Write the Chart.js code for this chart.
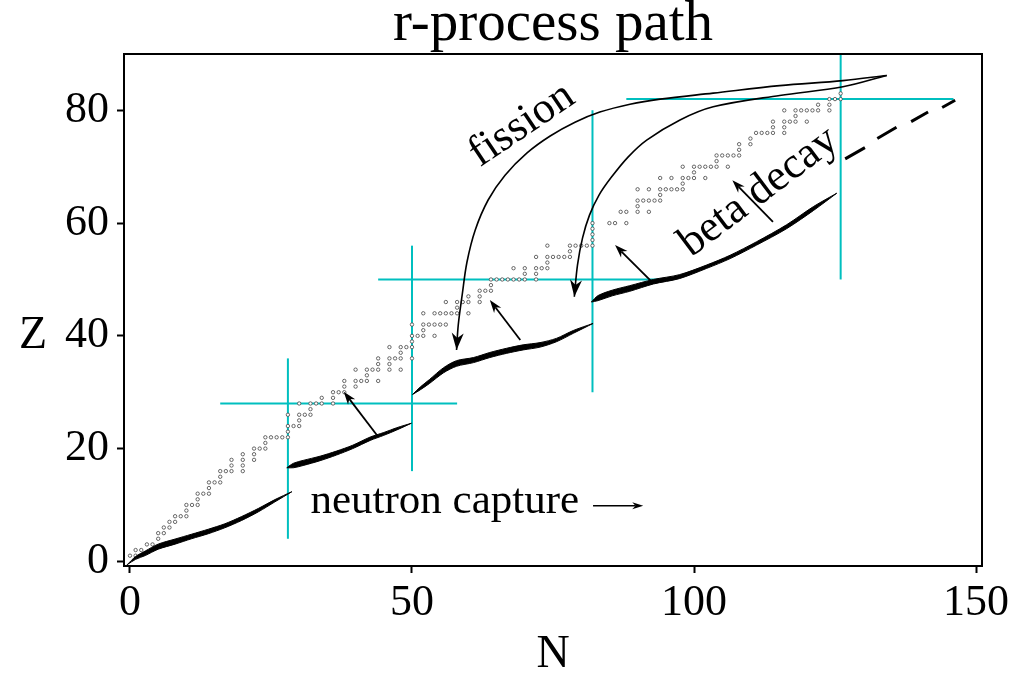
<!DOCTYPE html>
<html><head><meta charset="utf-8">
<script src="https://cdn.jsdelivr.net/npm/chart.js@4.4.0/dist/chart.umd.min.js"></script>
<style>html,body{margin:0;padding:0;background:#fff}</style>
</head><body>
<canvas id="c" width="1013" height="674"></canvas>
<script>
// ---------- data ----------
const xTickValues = [0, 50, 100, 150];
const yTickValues = [0, 20, 40, 60, 80];

// stable nuclides: [Z, [N values]]
const stableRows = [
 [1,[0,1]],[2,[1,2]],[3,[3,4]],[4,[5]],[5,[5,6]],[6,[6,7]],[7,[7,8]],[8,[8,9,10]],[9,[10]],
 [10,[10,11,12]],[11,[12]],[12,[12,13,14]],[13,[14]],[14,[14,15,16]],[15,[16]],[16,[16,17,18,20]],
 [17,[18,20]],[18,[18,20,22]],[19,[20,22]],[20,[22,23,24]],[21,[24]],[22,[24,25,26,27,28]],[23,[28]],
 [24,[28,29,30]],[25,[30]],[26,[28,30,31,32]],[27,[32]],[28,[30,32,33,34,36]],[29,[34,36]],[30,[36,37,38]],
 [31,[38,40]],[32,[38,40,41,42,44]],[33,[42]],[34,[40,42,43,44,46,48]],[35,[44,46]],[36,[44,46,47,48,50]],
 [37,[48]],[38,[46,48,49,50]],[39,[50]],[40,[50,51,52,54]],[41,[52]],[42,[50,52,53,54,55,56]],
 [44,[52,54,55,56,57,58,60]],[45,[58]],[46,[56,58,59,60,62]],[47,[60,62]],[48,[62,63,64]],[49,[64]],
 [50,[64,65,66,67,68,69,70,72]],[51,[70,72]],[52,[68,70,72,73,74]],[53,[74]],[54,[72,74,75,76,77,78]],
 [55,[78]],[56,[74,78,79,80,81,82]],[57,[82]],[58,[82]],[59,[82]],[60,[82,85,86,88]],[62,[87,88,90,92]],
 [63,[90]],[64,[90,91,92,93,94]],[65,[94]],[66,[90,92,94,95,96,97,98]],[67,[98]],[68,[94,96,98,99,100,102]],
 [69,[100]],[70,[98,100,101,102,103,104,106]],[71,[104]],[72,[104,105,106,107,108]],[73,[108]],[74,[108,110]],
 [75,[110]],[76,[111,112,113,114,116]],[77,[114,116]],[78,[114,116,117,118,120]],[79,[118]],
 [80,[116,118,119,120,121,122,124]],[81,[122,124]],[82,[124,125,126]],[83,[126]]
];

// r-process path bands (N, Z lower edge, Z upper edge)
const band1N  = [-0.5, 1.0, 2.7, 5.0, 8.0, 10.9, 13.9, 16.8, 19.8, 22.8, 25.7, 28.7];
const band1Lo = [-0.6, 0.35, 1.02, 2.15, 3.05, 4.0, 4.9, 5.95, 7.25, 8.8, 10.55, 12.35];
const band1Hi = [-0.6, 0.85, 1.82, 3.05, 3.95, 4.8, 5.7, 6.65, 7.95, 9.4, 10.95, 12.35];

const band2N  = [27.8, 29.0, 30.7, 33.7, 36.6, 39.5, 42.6, 45.0, 47.3, 49.9];
const band2Lo = [16.6, 16.6, 17.0, 17.85, 18.85, 20.0, 21.45, 22.35, 23.3, 24.5];
const band2Hi = [16.6, 17.4, 17.9, 18.65, 19.55, 20.6, 22.05, 22.85, 23.7, 24.5];

const band3N  = [50.1, 51.5, 53.1, 55.6, 57.9, 60.9, 63.8, 66.8, 69.7, 72.7, 75.6, 78.6, 82.1];
const band3Lo = [29.6, 30.45, 31.55, 33.45, 34.6, 35.25, 36.15, 36.9, 37.5, 38.0, 38.95, 40.45, 42.2];
const band3Hi = [29.6, 30.95, 32.25, 34.35, 35.6, 36.15, 37.05, 37.8, 38.4, 38.8, 39.55, 40.95, 42.2];

const band4N  = [81.8, 83.0, 85.5, 88.6, 92.8, 97.4, 102.2, 106.4, 111.1, 116.4, 121.2, 125.3];
const band4Lo = [46.0, 46.25, 47.1, 47.9, 49.2, 50.15, 51.95, 53.7, 56.1, 59.0, 62.25, 65.3];
const band4Hi = [46.0, 47.15, 48.1, 48.9, 50.0, 50.85, 52.55, 54.3, 56.7, 59.7, 62.95, 65.3];

// broken continuation beyond N=126 (null = gap)
const dashN = [126.8, 130.3, 131.4, 132.5, 135.9, 137.2, 138.5, 141.5, 142.8, 144.0, 146.3];
const dashZ = [71.4, 73.4, null, 75.0, 77.0, null, 78.0, 79.7, null, 80.5, 81.8];

// fission return curves (from fission point to arrow tip)
const fissionAN = [134.17, 126.4, 115.2, 103.4, 94.0, 88.65, 83.3, 78.9, 74.5, 70.4, 66.5, 63.5, 61.2, 59.75, 58.9, 58.2, 57.9];
const fissionAZ = [86.2, 85.28, 84.39, 83.06, 82.0, 81.1, 79.7, 77.9, 75.45, 72.45, 68.5, 64.1, 58.75, 53.1, 47.25, 41.9, 37.5];
const fissionBN = [134.17, 126.4, 115.2, 103.4, 97.52, 91.61, 88.3, 85.37, 83.16, 81.47, 80.23, 79.34, 78.78];
const fissionBZ = [86.2, 84.18, 82.65, 80.63, 78.3, 74.72, 71.71, 68.16, 64.97, 61.42, 57.34, 52.55, 46.93];

// magic numbers: vertical [N, Zfrom, Zto], horizontal [Z, Nfrom, Nto]
const magicVertical   = [[28, 4, 36], [50, 16, 56], [82, 30, 80], [126, 50, 95]];
const magicHorizontal = [[28, 16, 58], [50, 44, 96], [82, 88, 146]];

// beta-decay arrows [N tail, Z tail, N head, Z head]
const betaArrows = [[44.0, 22.1, 37.9, 30.1], [69.2, 39.25, 63.8, 46.35], [92.8, 49.3, 86.0, 56.1], [114.0, 60.2, 106.8, 67.6]];
const captureArrow = [82.1, 9.85, 91.0, 9.85];

// ---------- build ----------
const pts = (ns, zs) => ns.map((n, i) => ({x: n, y: zs[i]}));
const datasets = [];
const CYAN = '#00bfbf';

magicVertical.forEach(([n, z0, z1]) => datasets.push({
  type: 'line', data: [{x: n, y: z0}, {x: n, y: z1}], borderColor: CYAN, borderWidth: 2,
  pointRadius: 0, fill: false, order: 20, clip: 0
}));
magicHorizontal.forEach(([z, n0, n1]) => datasets.push({
  type: 'line', data: [{x: n0, y: z}, {x: n1, y: z}], borderColor: CYAN, borderWidth: 2,
  pointRadius: 0, fill: false, order: 20, clip: 0
}));

const stablePts = [];
stableRows.forEach(([z, ns]) => ns.forEach(n => stablePts.push({x: n, y: z})));
datasets.push({
  type: 'scatter', data: stablePts, pointRadius: 1.7, pointBorderWidth: 0.8,
  pointBorderColor: '#444', pointBackgroundColor: '#fff', showLine: false, order: 10, clip: 0
});

[[band1N, band1Lo, band1Hi], [band2N, band2Lo, band2Hi], [band3N, band3Lo, band3Hi], [band4N, band4Lo, band4Hi]]
.forEach(([ns, lo, hi]) => {
  datasets.push({type: 'line', data: pts(ns, lo), borderColor: '#000', borderWidth: 1, tension: 0.3,
    pointRadius: 0, fill: false, order: 8, clip: 0});
  datasets.push({type: 'line', data: pts(ns, hi), borderColor: '#000', borderWidth: 1, tension: 0.3,
    pointRadius: 0, fill: '-1', backgroundColor: '#000', order: 8, clip: 0});
});

datasets.push({type: 'line', data: pts(dashN, dashZ), borderColor: '#000', borderWidth: 3,
  pointRadius: 0, spanGaps: false, fill: false, order: 8, clip: 0});

[[fissionAN, fissionAZ], [fissionBN, fissionBZ]].forEach(([ns, zs]) => datasets.push({
  type: 'line', data: pts(ns, zs), borderColor: '#000', borderWidth: 1.6, tension: 0.35,
  pointRadius: 0, fill: false, order: 5, clip: 0
}));

const FONT = '"Liberation Serif", "Times New Roman", serif';

function head(ctx, x0, y0, x1, y1, L, W) {
  const a = Math.atan2(y1 - y0, x1 - x0);
  ctx.save(); ctx.translate(x1, y1); ctx.rotate(a);
  ctx.beginPath(); ctx.moveTo(0, 0); ctx.lineTo(-L, -W); ctx.lineTo(-L * 0.7, 0); ctx.lineTo(-L, W);
  ctx.closePath(); ctx.fillStyle = '#000'; ctx.fill(); ctx.restore();
}
function arrow(ctx, x0, y0, x1, y1, L, W, lw) {
  const a = Math.atan2(y1 - y0, x1 - x0);
  ctx.beginPath(); ctx.moveTo(x0, y0);
  ctx.lineTo(x1 - Math.cos(a) * L * 0.7, y1 - Math.sin(a) * L * 0.7);
  ctx.lineWidth = lw; ctx.strokeStyle = '#000'; ctx.stroke();
  head(ctx, x0, y0, x1, y1, L, W);
}

const overlay = {
  id: 'overlay',
  afterDraw(chart) {
    const {ctx, chartArea: a, scales: {x, y}} = chart;
    const px = n => x.getPixelForValue(n), py = z => y.getPixelForValue(z);
    ctx.save();
    [[fissionAN, fissionAZ], [fissionBN, fissionBZ]].forEach(([ns, zs]) => {
      const k = ns.length - 1;
      head(ctx, px(ns[k - 1]), py(zs[k - 1]), px(ns[k]), py(zs[k]), 17, 6);
    });
    betaArrows.forEach(([n0, z0, n1, z1]) => arrow(ctx, px(n0), py(z0), px(n1), py(z1), 13, 4.5, 1.8));
    arrow(ctx, px(captureArrow[0]), py(captureArrow[1]), px(captureArrow[2]), py(captureArrow[3]), 11, 3.5, 1.5);

    const label = (t, n, z, rot, size, align, base) => {
      ctx.save(); ctx.translate(px(n), py(z)); ctx.rotate(rot * Math.PI / 180);
      ctx.font = size + 'px ' + FONT; ctx.fillStyle = '#000';
      ctx.textAlign = align; ctx.textBaseline = base; ctx.fillText(t, 0, 0); ctx.restore();
    };
    label('neutron capture', 32.0, 8.5, 0, 43, 'left', 'alphabetic');
    label('fission', 69.5, 77.4, -34, 44, 'center', 'middle');
    label('beta decay', 111.5, 65.5, -37, 44, 'center', 'middle');

    ctx.lineWidth = 2; ctx.strokeStyle = '#000';
    ctx.strokeRect(a.left, a.top, a.right - a.left, a.bottom - a.top);

    ctx.fillStyle = '#000'; ctx.textAlign = 'center'; ctx.textBaseline = 'alphabetic';
    ctx.font = '57px ' + FONT;
    ctx.fillText('r-process path', (a.left + a.right) / 2, 40);
    ctx.font = '46px ' + FONT;
    ctx.fillText('N', (a.left + a.right) / 2, 667);
    ctx.fillText('Z', 33, 348);
    ctx.restore();
  }
};

new Chart(document.getElementById('c'), {
  type: 'scatter',
  data: {datasets},
  options: {
    responsive: false, devicePixelRatio: 1, animation: false,
    layout: {padding: {left: 0, right: 31, top: 54, bottom: 0}},
    plugins: {legend: {display: false}, tooltip: {enabled: false}, title: {display: false}},
    scales: {
      x: {
        type: 'linear', min: -1.06, max: 151.06,
        afterBuildTicks(s) { s.ticks = xTickValues.map(v => ({value: v})); },
        ticks: {color: '#000', padding: 4, maxRotation: 0, autoSkip: false,
          font: {family: FONT, size: 44}},
        grid: {drawOnChartArea: false, drawTicks: true, tickLength: 7, tickWidth: 2, tickColor: '#000'},
        border: {display: true, color: '#000', width: 2},
        afterFit(s) { s.height = 108; s.paddingRight = 0; s.paddingLeft = 0; }
      },
      y: {
        type: 'linear', min: -0.83, max: 90,
        afterBuildTicks(s) { s.ticks = yTickValues.map(v => ({value: v})); },
        ticks: {color: '#000', padding: 8, autoSkip: false, font: {family: FONT, size: 44}},
        grid: {drawOnChartArea: false, drawTicks: true, tickLength: 7, tickWidth: 2, tickColor: '#000'},
        border: {display: true, color: '#000', width: 2},
        afterFit(s) { s.width = 124; }
      }
    }
  },
  plugins: [overlay]
});
</script>
</body></html>
